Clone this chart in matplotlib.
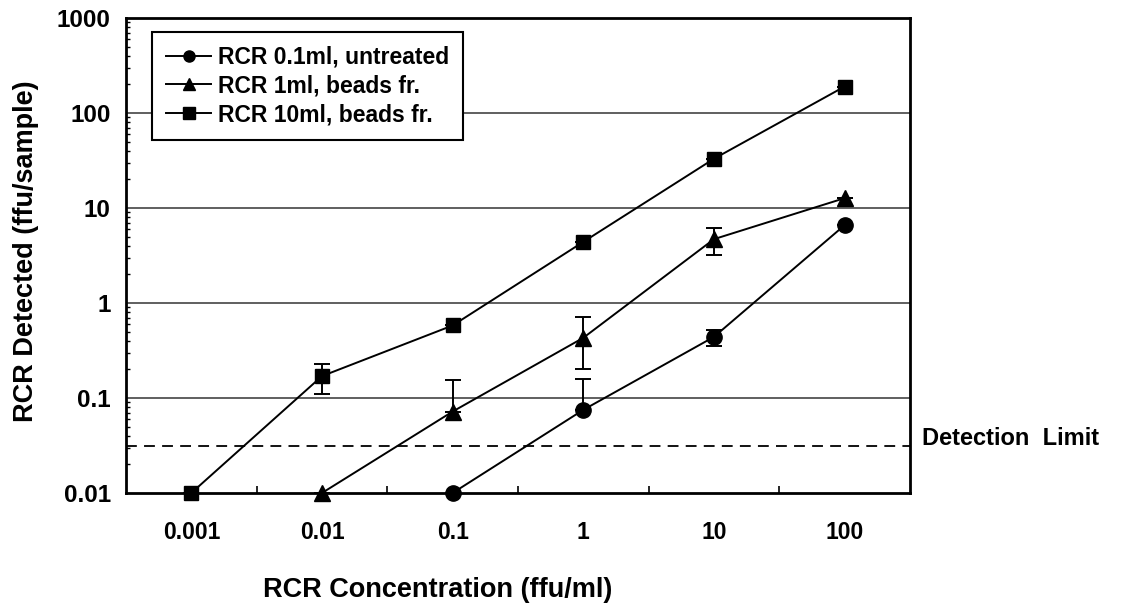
import numpy as np
import matplotlib
matplotlib.use("Agg")
import matplotlib.pyplot as plt
from matplotlib.lines import Line2D

plt.rcParams['font.family'] = ['Liberation Sans', 'DejaVu Sans']
plt.rcParams['font.weight'] = 'bold'

# data
conc_labels = ["0.001", "0.01", "0.1", "1", "10", "100"]

untreated_x = [2, 3, 4, 5]
untreated_y = [0.01, 0.075, 0.44, 6.6]
untreated_lo = [0, 0, 0.09, 0]
untreated_hi = [0, 0.085, 0.08, 0]

beads1_x = [1, 2, 3, 4, 5]
beads1_y = [0.01, 0.072, 0.43, 4.7, 12.7]
beads1_lo = [0, 0, 0.23, 1.5, 0]
beads1_hi = [0, 0.083, 0.28, 1.5, 0]

beads10_x = [0, 1, 2, 3, 4, 5]
beads10_y = [0.01, 0.17, 0.58, 4.4, 33, 190]
beads10_lo = [0, 0.06, 0, 0, 0, 0]
beads10_hi = [0, 0.06, 0, 0, 0, 0]

series_names = ['RCR 0.1ml, untreated', 'RCR 1ml, beads fr.', 'RCR 10ml, beads fr.']
series_markers = ['o', '^', 's']

detection_limit = 0.031

fig = plt.figure(figsize=(11.23, 6.13), dpi=100)
ax = fig.add_axes([0.1122, 0.1958, 0.6981, 0.7748])

ax.set_yscale('log')
ax.set_ylim(0.01, 1000)
ax.set_xlim(-0.5, 5.5)

for v in [0.1, 1, 10, 100]:
    ax.axhline(v, color='#444444', lw=1.2, zorder=1)
ax.axhline(detection_limit, color='black', lw=1.3, ls=(0, (6, 4)), zorder=1)

common = dict(color='black', lw=1.4, ecolor='black', elinewidth=1.4,
              capsize=6, capthick=1.4, zorder=3, clip_on=False)
ax.errorbar(untreated_x, untreated_y, yerr=[untreated_lo, untreated_hi],
            marker='o', ms=11, **common)
ax.errorbar(beads1_x, beads1_y, yerr=[beads1_lo, beads1_hi],
            marker='^', ms=12, **common)
ax.errorbar(beads10_x, beads10_y, yerr=[beads10_lo, beads10_hi],
            marker='s', ms=10, **common)

ax.set_xticks(range(len(conc_labels)))
ax.set_xticklabels(conc_labels, fontsize=16.5, fontweight='bold')
ax.set_xticks(np.arange(0.5, 5, 1), minor=True)
ax.tick_params(axis='x', which='major', length=0, pad=20)
ax.tick_params(axis='x', which='minor', direction='in', length=5, width=1.2)

ax.set_yticks([0.01, 0.1, 1, 10, 100, 1000])
ax.set_yticklabels(["0.01", "0.1", "1", "10", "100", "1000"], fontsize=17.5, fontweight='bold')
ax.tick_params(axis='y', which='major', direction='in', length=0, pad=11)
ax.tick_params(axis='y', which='minor', direction='in', length=3, width=1)
ax.yaxis.set_minor_formatter(matplotlib.ticker.NullFormatter())

for s in ax.spines.values():
    s.set_linewidth(2)
    s.set_color('black')

fig.text(26 / 1123, 0.59, 'RCR Detected (ffu/sample)', fontsize=19.5, fontweight='bold',
         rotation=90, ha='center', va='center')
fig.text(0.39, 0.026, 'RCR Concentration (ffu/ml)', fontsize=19.5, fontweight='bold',
         ha='center', va='baseline')
fig.text(0.821, 0.284, 'Detection  Limit', fontsize=17, fontweight='bold',
         ha='left', va='center')

handles = [Line2D([], [], color='black', lw=1.4, marker=m, ms=8) for m in series_markers]
leg = ax.legend(handles, series_names, loc='upper left', bbox_to_anchor=(0.033, 0.971),
                fontsize=16.5, frameon=True, fancybox=False, edgecolor='black',
                framealpha=1, handlelength=2.0, borderpad=0.6, labelspacing=0.25,
                handletextpad=0.3, borderaxespad=0)
leg.get_frame().set_linewidth(1.5)
for t in leg.get_texts():
    t.set_fontweight('bold')

fig.savefig('out.png', dpi=100, facecolor='white')
